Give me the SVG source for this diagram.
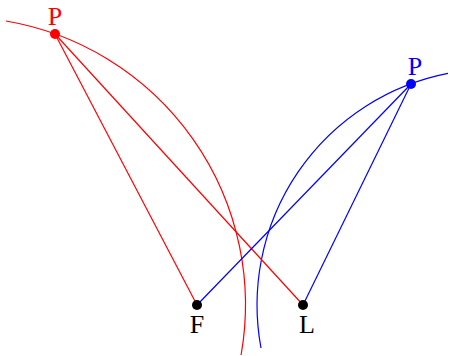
<svg xmlns="http://www.w3.org/2000/svg" width="450" height="356" viewBox="0 0 450 356">
<style>
.r{stroke:#ff0000;fill:none;stroke-width:1.2}
.b{stroke:#0000ff;fill:none;stroke-width:1.2}
text{font-family:"Liberation Serif","Times New Roman",serif;font-size:26px;text-anchor:middle}
</style>
<rect width="450" height="356" fill="#fff"/>
<g id="connectors">
<path class="r" d="M6 21 A288 288 0 0 1 241.1 355"/>
<path class="b" d="M261 348 A236 236 0 0 1 448 73.3"/>
<line class="r" x1="55" y1="34" x2="197" y2="305"/>
<line class="r" x1="55" y1="34" x2="303" y2="305"/>
<line class="b" x1="411" y1="84" x2="197" y2="305"/>
<line class="b" x1="411" y1="84" x2="303" y2="305"/>
</g>
<g id="P_red"><circle cx="55" cy="34" r="5" fill="#ff0000"/><text x="55" y="25" fill="#ff0000">P</text></g>
<g id="P_blue"><circle cx="411" cy="84" r="5" fill="#0000ff"/><text x="415" y="75" fill="#0000ff">P</text></g>
<g id="F"><circle cx="197" cy="305" r="5" fill="#000"/><text x="197" y="333">F</text></g>
<g id="L"><circle cx="303" cy="305" r="5" fill="#000"/><text x="307" y="333">L</text></g>
</svg>
